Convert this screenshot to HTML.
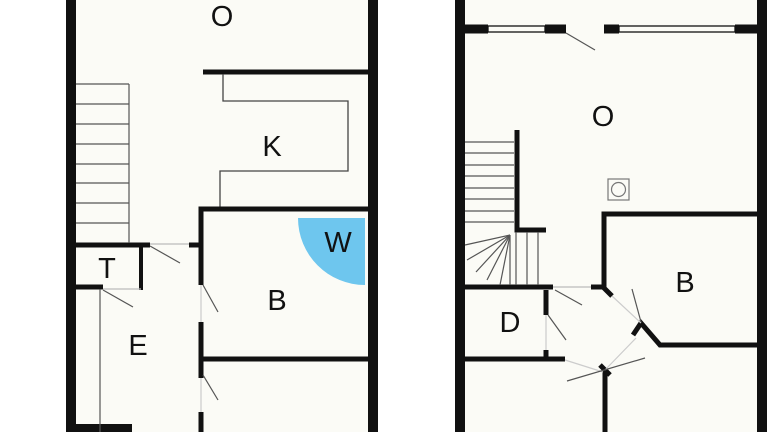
<!DOCTYPE html>
<html><head><meta charset="utf-8"><style>
html,body{margin:0;padding:0;background:#fff;}
svg{display:block}
text{font-family:"Liberation Sans",sans-serif;font-size:29px;fill:#111;text-anchor:middle;}
</style></head><body>
<svg width="768" height="432" viewBox="0 0 768 432" xmlns="http://www.w3.org/2000/svg">
<rect width="768" height="432" fill="#fff"/>
<!-- floors -->
<rect x="71" y="0" width="302" height="432" fill="#fbfbf6"/>
<rect x="460" y="0" width="302" height="432" fill="#fbfbf6"/>

<!-- LEFT PLAN -->
<g stroke="#111" fill="none">
<line x1="71" y1="0" x2="71" y2="432" stroke-width="10"/>
<line x1="373" y1="0" x2="373" y2="432" stroke-width="10"/>
<line x1="203" y1="72" x2="370" y2="72" stroke-width="5"/>
<polyline points="223,74 223,101 348,101 348,171 220,171 220,207" stroke-width="1.3" stroke="#444"/>
<polyline points="201,285 201,209 370,209" stroke-width="5"/>
<line x1="201" y1="322" x2="201" y2="378" stroke-width="5"/>
<line x1="201" y1="412" x2="201" y2="432" stroke-width="5"/>
<line x1="203" y1="359" x2="370" y2="359" stroke-width="5"/>
<line x1="66" y1="245" x2="150" y2="245" stroke-width="5"/>
<line x1="189" y1="245" x2="199" y2="245" stroke-width="5"/>
<line x1="141" y1="245" x2="141" y2="290" stroke-width="4"/>
<line x1="66" y1="287" x2="103" y2="287" stroke-width="5"/>
<line x1="66" y1="428" x2="132" y2="428" stroke-width="8"/>
</g>
<g stroke="#555" stroke-width="1.2">
<line x1="150" y1="244" x2="189" y2="244" stroke="#bbb"/>
<line x1="103" y1="289" x2="141" y2="289" stroke="#bbb"/>
<line x1="100" y1="289" x2="100" y2="432"/>
<line x1="150" y1="246" x2="180" y2="263"/>
<line x1="103" y1="290" x2="133" y2="307"/>
<line x1="203" y1="285" x2="218" y2="312"/>
<line x1="203" y1="375" x2="218" y2="400"/>
<line x1="201" y1="285" x2="201" y2="322" stroke="#ccc"/>
<line x1="201" y1="378" x2="201" y2="412" stroke="#ccc"/>
<!-- stairs -->
<line x1="129" y1="84" x2="129" y2="243"/>
<line x1="76" y1="84" x2="129" y2="84"/>
<line x1="76" y1="104" x2="129" y2="104"/>
<line x1="76" y1="124" x2="129" y2="124"/>
<line x1="76" y1="144" x2="129" y2="144"/>
<line x1="76" y1="164" x2="129" y2="164"/>
<line x1="76" y1="183" x2="129" y2="183"/>
<line x1="76" y1="203" x2="129" y2="203"/>
<line x1="76" y1="223" x2="129" y2="223"/>
</g>
<path d="M365,218 L298,218 A67,67 0 0 0 365,285 Z" fill="#6ec6ee"/>
<text x="222" y="26">O</text>
<text x="272" y="156">K</text>
<text x="338" y="252">W</text>
<text x="277" y="310">B</text>
<text x="107" y="278">T</text>
<text x="138" y="355">E</text>

<!-- RIGHT PLAN -->
<g stroke="#111" fill="none">
<line x1="460" y1="0" x2="460" y2="432" stroke-width="10"/>
<line x1="762" y1="0" x2="762" y2="432" stroke-width="10"/>
<line x1="465" y1="29" x2="488" y2="29" stroke-width="9"/>
<line x1="545" y1="29" x2="566" y2="29" stroke-width="9"/>
<line x1="604" y1="29" x2="619" y2="29" stroke-width="9"/>
<line x1="735" y1="29" x2="757" y2="29" stroke-width="9"/>
<rect x="488" y="26" width="57" height="6" stroke-width="1.3"/>
<rect x="619" y="26" width="116" height="6" stroke-width="1.3"/>
<polyline points="517,130 517,230 546,230" stroke-width="5"/>
<line x1="465" y1="287" x2="553" y2="287" stroke-width="5"/>
<line x1="591" y1="287" x2="605" y2="287" stroke-width="5"/>
<polyline points="757,214 604,214 604,288 612,296" stroke-width="5"/>
<polyline points="633,335 641,323 660,345 757,345" stroke-width="5"/>
<line x1="546" y1="290" x2="546" y2="315" stroke-width="5"/>
<line x1="546" y1="350" x2="546" y2="360" stroke-width="5"/>
<line x1="465" y1="359" x2="565" y2="359" stroke-width="5"/>
<line x1="605" y1="370" x2="605" y2="432" stroke-width="5"/>
<line x1="600" y1="365" x2="610" y2="375" stroke-width="5"/>
</g>
<g stroke="#555" stroke-width="1.2">
<line x1="566" y1="33" x2="595" y2="50"/>
<line x1="553" y1="287" x2="591" y2="287" stroke="#bbb"/>
<line x1="555" y1="290" x2="582" y2="305"/>
<line x1="548" y1="315" x2="566" y2="340"/>
<line x1="546" y1="315" x2="546" y2="350" stroke="#ccc"/>
<line x1="612" y1="296" x2="641" y2="323" stroke="#ccc"/>
<line x1="632" y1="289" x2="641" y2="322"/>
<line x1="636" y1="338" x2="605" y2="370" stroke="#ccc"/>
<line x1="565" y1="360" x2="603" y2="372" stroke="#ccc"/>
<line x1="567" y1="381" x2="645" y2="358"/>
<!-- stairs -->
<line x1="465" y1="142" x2="514" y2="142"/>
<line x1="465" y1="153" x2="514" y2="153"/>
<line x1="465" y1="165" x2="514" y2="165"/>
<line x1="465" y1="176" x2="514" y2="176"/>
<line x1="465" y1="188" x2="514" y2="188"/>
<line x1="465" y1="199" x2="514" y2="199"/>
<line x1="465" y1="211" x2="514" y2="211"/>
<line x1="465" y1="222" x2="514" y2="222"/>
<line x1="510" y1="235" x2="465" y2="245"/>
<line x1="510" y1="235" x2="467" y2="260"/>
<line x1="510" y1="235" x2="476" y2="272"/>
<line x1="510" y1="235" x2="487" y2="280"/>
<line x1="510" y1="235" x2="500" y2="285"/>
<line x1="510" y1="235" x2="510" y2="285"/>
<line x1="516" y1="232" x2="516" y2="285"/>
<line x1="527" y1="232" x2="527" y2="285"/>
<line x1="538" y1="232" x2="538" y2="285"/>
</g>
<rect x="608" y="179" width="21" height="21" fill="none" stroke="#777" stroke-width="1.2"/>
<circle cx="618.5" cy="189.5" r="7" fill="none" stroke="#777" stroke-width="1.2"/>
<text x="603" y="126">O</text>
<text x="685" y="292">B</text>
<text x="510" y="332">D</text>
</svg>
</body></html>
